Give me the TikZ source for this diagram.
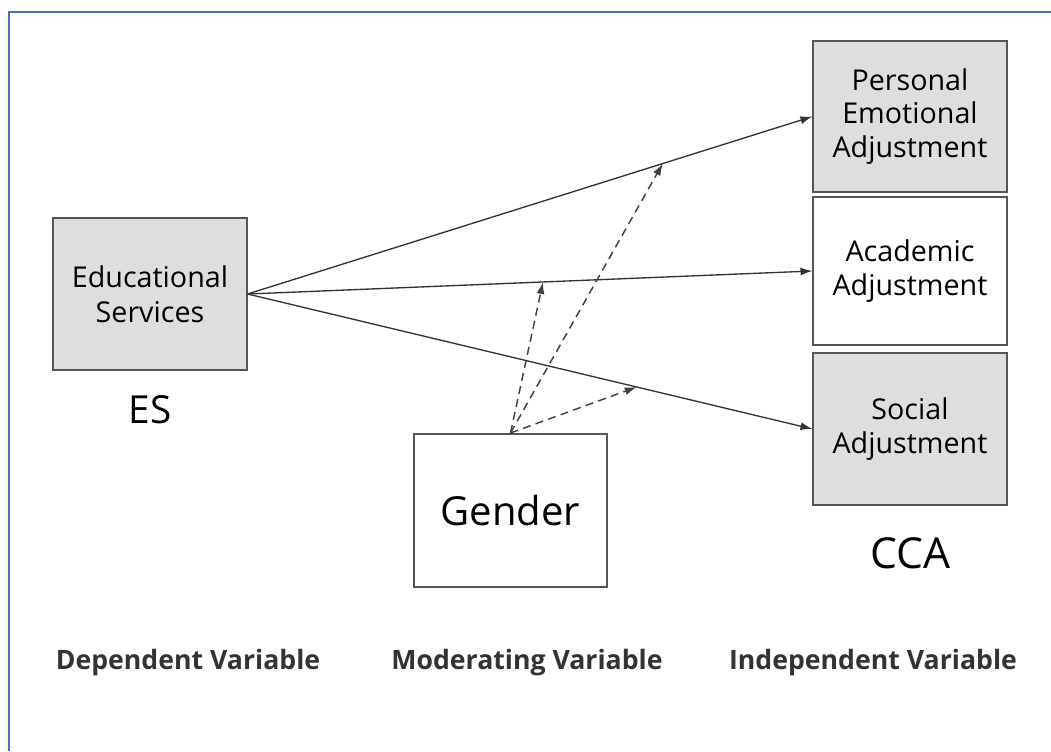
\documentclass[tikz,border=0pt]{standalone}
\usepackage{fontspec}
\setmainfont{Open Sans}
\usetikzlibrary{arrows.meta, positioning, calc}
\definecolor{boxgray}{HTML}{DEDEDE}
\definecolor{edgegray}{HTML}{555555}
\definecolor{framblue}{HTML}{4472C4}

\begin{document}
\begin{tikzpicture}[x=0.75pt, y=-0.75pt,
  varbox/.style={draw=edgegray, line width=1.3pt, align=center, inner sep=0pt, minimum width=145pt},
  link/.style={draw=black!80, line width=1pt, -{Latex[length=9pt, width=6pt]}},
  modlink/.style={draw=black!75, line width=1.1pt, dashed, dash pattern=on 6pt off 4pt, -{Latex[length=9pt, width=6pt]}}]
\useasboundingbox (0,0) rectangle (1051,751);
% frame
\draw[framblue, line width=2pt] (9,751) -- (9,12) -- (1051,12);

% Variable boxes
\node[varbox, fill=boxgray, minimum height=114pt, font=\fontsize{21.5}{26}\selectfont] (es) at (150,294) {Educational\\Services};
\node[varbox, fill=boxgray, minimum height=113pt, font=\fontsize{21.5}{25}\selectfont] (pea) at (910,116.5) {Personal\\Emotional\\Adjustment};
\node[varbox, fill=white, minimum height=111pt, font=\fontsize{21.5}{25}\selectfont] (aa) at (910,271) {Academic\\Adjustment};
\node[varbox, fill=boxgray, minimum height=114pt, font=\fontsize{21.5}{25}\selectfont] (sa) at (910,429) {Social\\Adjustment};
\node[varbox, fill=white, minimum height=115pt, font=\fontsize{30}{36}\selectfont] (gen) at (510.5,510.5) {Gender};

% Short names
\node[font=\fontsize{29}{34}\selectfont] (esname) at (150,410) {ES};
\node[font=\fontsize{32}{38}\selectfont] (ccaname) at (910,553) {CCA};

% Direct effects
\draw[link] (es.east) -- (pea.west);
\draw[link] (es.east) -- (aa.west);
\draw[link] (es.east) -- (sa.west);

% Moderation
\coordinate (m1) at ($(es.east)!0.735!(pea.west)$);
\coordinate (m2) at ($(es.east)!0.523!(aa.west)$);
\coordinate (m3) at ($(es.east)!0.689!(sa.west)$);
\draw[modlink] (gen.north) -- (m1);
\draw[modlink] (gen.north) -- (m2);
\draw[modlink] (gen.north) -- (m3);

% Variable roles
\node[font=\fontsize{20}{24}\bfseries, text=black!80] (dep) at (188,663) {Dependent Variable};
\node[font=\fontsize{20}{24}\bfseries, text=black!80] (mod) at (527,663) {Moderating Variable};
\node[font=\fontsize{20}{24}\bfseries, text=black!80] (ind) at (873,663) {Independent Variable};
\end{tikzpicture}
\end{document}
